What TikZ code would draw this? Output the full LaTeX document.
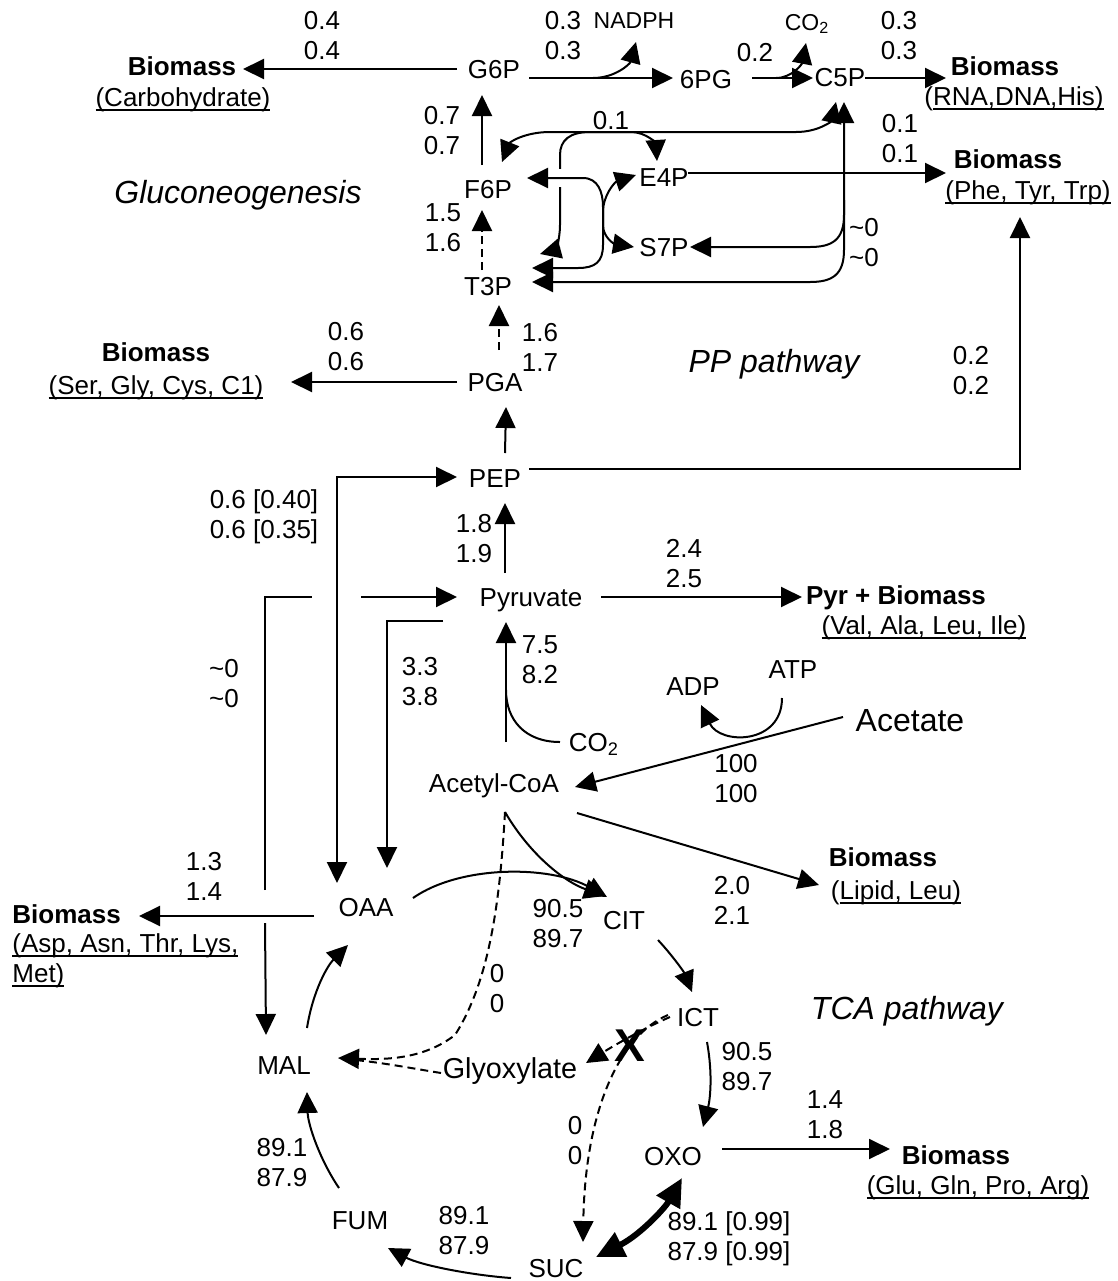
\documentclass[tikz,border=0pt]{standalone}
\usepackage{fontspec}
\setmainfont{Liberation Sans}
\usetikzlibrary{arrows.meta}
\newcommand\myul[1]{\sbox0{#1}\rlap{\rule[-2.4pt]{\wd0}{0.9pt}}\usebox0}
\begin{document}
\begin{tikzpicture}[x=0.5pt,y=-0.5pt,
  t/.style={inner sep=0pt, font=\fontsize{13}{15}\selectfont, text height=9.3pt, text depth=0pt},
  bm/.style={t, font=\fontsize{13}{15}\selectfont\bfseries},
  num/.style={inner sep=0pt, font=\fontsize{13}{15}\selectfont, align=left},
  sm/.style={inner sep=0pt, font=\fontsize{11.5}{13}\selectfont, text height=8.2pt, text depth=0pt},
  big/.style={inner sep=0pt, font=\fontsize{16}{19}\selectfont\itshape, text height=11.5pt, text depth=0pt},
  ln/.style={line width=1pt},
  ar/.style={ln, -{Triangle[length=10.5pt,width=10pt]}},
  ra/.style={ln, {Triangle[length=10.5pt,width=10pt]}-},
  lr/.style={ln, {Triangle[length=10.5pt,width=10pt]}-{Triangle[length=10.5pt,width=10pt]}},
  dsh/.style={dash pattern=on 4pt off 2.5pt}
]
\useasboundingbox (0,0) rectangle (1118,1281);
% ---------- nodes ----------
\node[t] (G6P) at (494,69) {G6P};
\node[t] (pg6) at (706,79) {6PG};
\node[t] (C5P) at (840,77) {C5P};
\node[sm] (nadph) at (634,20) {NADPH};
\node[sm] (co2a) at (807,22) {CO\textsubscript{2}};
\node[num] (n04) at (322,36) {0.4\\0.4};
\node[num] (n03a) at (563,36) {0.3\\0.3};
\node[t] (n02a) at (755,52) {0.2};
\node[num] (n03b) at (899,36) {0.3\\0.3};
\node[bm] (bmC) at (182,66) {Biomass};
\node[t] (bmCt) at (183,97) {\myul{(Carbohydrate)}};
\node[bm] (bmR) at (1005,66) {Biomass};
\node[t] (bmRt) at (1014,96) {(\myul{RNA,DNA,His)}};
\node[num] (n07) at (442,131) {0.7\\0.7};
\node[t] (n01) at (611,120) {0.1};
\node[num] (n01b) at (900,139) {0.1\\0.1};
\node[bm] (bmP) at (1008,159) {Biomass};
\node[t] (bmPt) at (1028,190) {\myul{(Phe, Tyr, Trp)}};
\node[t] (F6P) at (488,189) {F6P};
\node[t] (E4P) at (664,177) {E4P};
\node[big] (glu) at (238,192) {Gluconeogenesis};
\node[num] (n15) at (443,228) {1.5\\1.6};
\node[t] (S7P) at (664,247) {S7P};
\node[num] (n00a) at (864,243) {\textasciitilde0\\\textasciitilde0};
\node[t] (T3P) at (488,286) {T3P};
\node[num] (n06) at (346,347) {0.6\\0.6};
\node[bm] (bmS) at (156,352) {Biomass};
\node[t] (bmSt) at (156,385) {\myul{(Ser, Gly, Cys, C1)}};
\node[t] (PGA) at (495,382) {PGA};
\node[num] (n16) at (540,347) {1.6\\1.7};
\node[big] (pp) at (774,361) {PP pathway};
\node[num] (n02b) at (971,371) {0.2\\0.2};
\node[t] (PEP) at (495,478) {PEP};
\node[num] (n06b) at (264,517) {0.6 [0.40]\\0.6 [0.35]};
\node[num] (n18) at (474,539) {1.8\\1.9};
\node[num] (n24) at (684,564) {2.4\\2.5};
\node[t] (Pyr) at (531,597) {Pyruvate};
\node[bm] (bmY) at (896,595) {Pyr + Biomass};
\node[t] (bmYt) at (924,625) {\myul{(Val, Ala, Leu, Ile)}};
\node[num] (n00b) at (224,684) {\textasciitilde0\\\textasciitilde0};
\node[num] (n33) at (420,682) {3.3\\3.8};
\node[num] (n75) at (540,660) {7.5\\8.2};
\node[t] (ATP) at (793,669) {ATP};
\node[t] (ADP) at (693,686) {ADP};
\node[t, font=\fontsize{16}{19}\selectfont, text height=11.5pt] (Ace) at (910,720) {Acetate};
\node[t] (co2b) at (594,742) {CO\textsubscript{2}};
\node[t] (AcCoA) at (494,783) {Acetyl-CoA};
\node[num] (n100) at (736,779) {100\\100};
\node[bm] (bmL) at (883,857) {Biomass};
\node[t] (bmLt) at (896,890) {(\myul{Lipid, Leu)}};
\node[num] (n13) at (204,876) {1.3\\1.4};
\node[num] (n20) at (732,900) {2.0\\2.1};
\node[t] (OAA) at (366,907) {OAA};
\node[bm, anchor=west] (bmA) at (12,914) {Biomass};
\node[t, anchor=west] (bmAt) at (12,943) {\myul{(Asp, Asn, Thr, Lys,}};
\node[t, anchor=west] (bmAu) at (12,973) {\myul{Met)}};
\node[t] (CIT) at (624,920) {CIT};
\node[num] (n905) at (558,924) {90.5\\89.7};
\node[num] (n00c) at (497,989) {0\\0};
\node[t] (ICT) at (698,1017) {ICT};
\node[big] (tca) at (907,1008) {TCA pathway};
\node[num] (n905b) at (747,1067) {90.5\\89.7};
\node[t] (MAL) at (284,1065) {MAL};
\node[t, font=\fontsize{14.4}{17}\selectfont, text height=10.3pt] (Gly) at (510,1068) {Glyoxylate};
\node[num] (n14) at (825,1115) {1.4\\1.8};
\node[num] (n00d) at (575,1141) {0\\0};
\node[num] (n891a) at (282,1163) {89.1\\87.9};
\node[t] (OXO) at (673,1156) {OXO};
\node[bm] (bmG) at (956,1155) {Biomass};
\node[t] (bmGt) at (978,1185) {\myul{(Glu, Gln, Pro, Arg)}};
\node[t] (FUM) at (360,1220) {FUM};
\node[num] (n891b) at (464,1231) {89.1\\87.9};
\node[num] (n891c) at (729,1239) {89.1 [0.99]\\87.9 [0.99]};
\node[t] (SUC) at (556,1268) {SUC};
% ---------- top row ----------
\draw[ar] (457,69) -- (243,69);
\draw[ar] (529,78) -- (673,78);
\draw[ar] (593,78) .. controls (615,78) and (630,64) .. (636,42);
\draw[ar] (752,78) -- (813,78);
\draw[ar] (776,78) .. controls (792,78) and (802,64) .. (806,43);
\draw[ar] (865,78) -- (946,78);
\draw[ar] (482,165) -- (482,95);
\draw[ar, dsh] (482,270) -- (482,210);
\draw[ar, dsh] (499,350) -- (499,305);
\draw[ar] (505,453) -- (506,407);
\draw[ar] (457,382) -- (291,382);
\draw[ar] (688,173) -- (946,173);
\draw[ar] (529,469) -- (1020,469) -- (1020,217);
% PP network
\draw[lr] (502,162) .. controls (510,142) and (525,132) .. (550,132) -- (796,132) .. controls (820,132) and (832,120) .. (836,102);
\draw[lr] (540,254) .. controls (555,250) and (560,240) .. (560,225) -- (560,155) .. controls (560,140) and (570,132) .. (590,132) -- (630,132) .. controls (648,132) and (656,145) .. (657,161);
\fill[white] (554,169) rectangle (566,187);
\draw[lr] (527,178) -- (583,178) .. controls (598,178) and (603,192) .. (603,207) -- (603,225) .. controls (603,238) and (615,244) .. (634,247);
\draw[lr] (636,175) .. controls (615,182) and (603,195) .. (603,212) -- (603,245) .. controls (603,262) and (595,268) .. (578,268) -- (532,268);
\draw[lr] (844,102) -- (844,215) .. controls (844,240) and (832,247) .. (810,247) -- (690,247);
\draw[ar] (844,200) -- (844,250) .. controls (844,275) and (832,282) .. (810,282) -- (532,282);
% ---------- middle ----------
\draw[ar] (505,573) -- (505,503);
\draw[lr] (337,883) -- (337,477) -- (457,477);
\draw[ra] (266,1035) -- (265,923);
\draw[ln] (265,890) -- (265,597) -- (312,597);
\draw[ar] (361,597) -- (457,597);
\draw[ar] (443,621) -- (387,621) -- (387,868);
\draw[ar] (601,597) -- (802,597);
\draw[ar] (506,742) -- (506,622);
\draw[ln] (560,742) .. controls (525,742) and (506,720) .. (506,690);
\draw[ar] (843,717) -- (575,787);
\draw[ar] (782,698) .. controls (782,745) and (720,745) .. (701,705);
\draw[ar] (577,813) -- (819,885);
% ---------- TCA ----------
\draw[ar] (314,916) -- (139,916);
\draw[ar] (413,898) .. controls (460,865) and (550,865) .. (607,897);
\draw[ar] (505,812) .. controls (530,855) and (565,882) .. (605,896);
\draw[ar, dsh] (505,812) .. controls (500,900) and (490,980) .. (455,1035) .. controls (425,1058) and (390,1060) .. (338,1058);
\draw[ln, dsh] (441,1073) .. controls (410,1068) and (380,1062) .. (345,1059);
\draw[ar] (658,940) .. controls (672,955) and (684,972) .. (692,992);
\draw[ar, dsh] (670,1017) .. controls (640,1030) and (610,1048) .. (586,1063);
\draw[ar, dsh] (668,1015) .. controls (620,1035) and (585,1110) .. (583,1242);
\node[t, font=\fontsize{23}{26}\selectfont\bfseries, text height=16.5pt] (X) at (630,1045) {X};
\draw[ar] (707,1042) .. controls (713,1075) and (710,1100) .. (703,1127);
\draw[ar] (722,1149) -- (890,1149);
\draw[line width=3pt, {Triangle[length=14pt,width=13pt]}-{Triangle[length=14pt,width=13pt]}] (682,1178) .. controls (665,1208) and (640,1235) .. (596,1257);
\draw[ar] (511,1278) .. controls (470,1275) and (420,1265) .. (388,1248);
\draw[ar] (339,1188) .. controls (320,1160) and (308,1125) .. (307,1092);
\draw[ar] (307,1028) .. controls (313,990) and (328,965) .. (348,945);
\end{tikzpicture}
\end{document}
